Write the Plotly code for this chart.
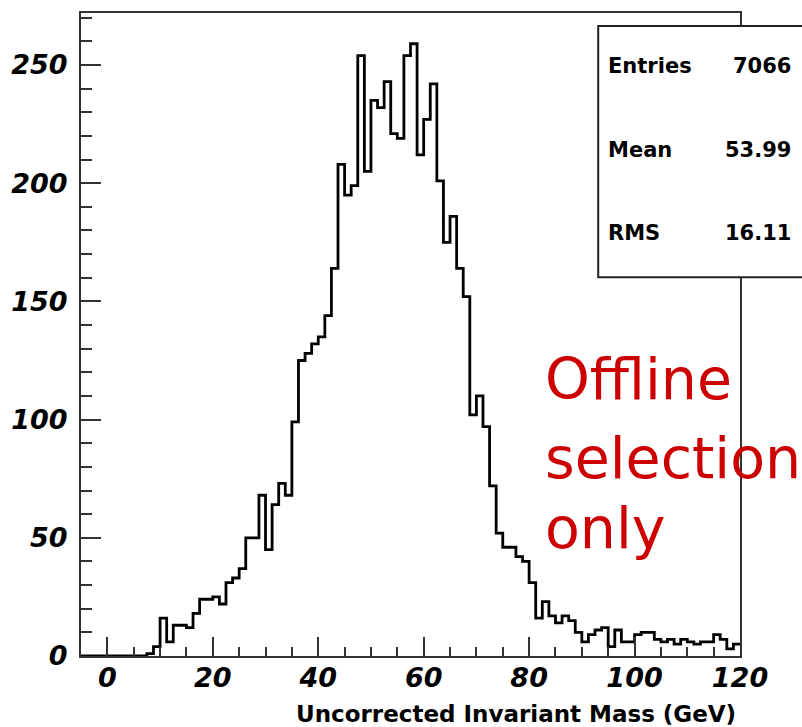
import plotly.graph_objects as go

# ---------------- data ----------------
bin_low = -5.0
bin_width = 1.25
counts = [
    0, 0, 0, 0, 0, 0, 0, 0, 0, 0,
    1, 4, 16, 6, 13, 13, 12, 18, 24, 24,
    25, 22, 31, 33, 37, 50, 50, 68, 45, 64,
    73, 68, 99, 125, 128, 132, 135, 144, 164, 208,
    195, 199, 254, 205, 235, 232, 243, 221, 219, 254,
    259, 212, 227, 242, 201, 175, 186, 164, 152, 102,
    110, 97, 72, 52, 46, 46, 42, 40, 31, 16,
    23, 17, 14, 17, 15, 10, 6, 9, 11, 12,
    4, 11, 6, 6, 9, 10, 10, 7, 6, 7,
    5, 7, 6, 5, 6, 6, 9, 7, 3, 5,
]
x_ticks = [0, 20, 40, 60, 80, 100, 120]
y_ticks = [0, 50, 100, 150, 200, 250]
x_title = "Uncorrected Invariant Mass (GeV)"
stats_labels = ["Entries", "Mean", "RMS"]
stats_values = ["7066", "53.99", "16.11"]
note_lines = ["Offline", "selection", "only"]

# ---------------- geometry ----------------
W, H = 802, 727
L, R, T, B = 80, 62, 11, 71
PW, PH = W - L - R, H - T - B


def px_x(px):
    return (px - L) / PW


def px_y(py):
    return (H - B - py) / PH


edges = [bin_low + bin_width * i for i in range(len(counts) + 1)]
yvals = counts + [counts[-1]]

fig = go.Figure()
fig.add_trace(go.Scatter(
    x=edges, y=yvals, mode="lines", line=dict(shape="hv", color="black", width=2.8),
    hoverinfo="skip", showlegend=False,
))

tickfont = dict(family="DejaVu Sans", size=27, weight="bold", style="italic", color="black")
axcol = "#333333"

fig.update_layout(
    width=W, height=H,
    margin=dict(l=L, r=R, t=T, b=B),
    paper_bgcolor="white", plot_bgcolor="white",
    showlegend=False,
    xaxis=dict(
        range=[bin_low, bin_low + bin_width * len(counts)],
        tickvals=x_ticks, ticks="inside", ticklen=19, tickwidth=2, tickcolor=axcol,
        minor=dict(dtick=5, tick0=0, ticks="inside", ticklen=9, tickwidth=2, tickcolor=axcol, showgrid=False),
        showline=True, linecolor=axcol, linewidth=2, mirror=True,
        showgrid=False, zeroline=False, tickfont=tickfont, ticklabelstandoff=-3,
    ),
    yaxis=dict(
        range=[0, 272],
        tickvals=y_ticks, ticks="inside", ticklen=20, tickwidth=2, tickcolor=axcol,
        minor=dict(dtick=10, tick0=0, ticks="inside", ticklen=11, tickwidth=2, tickcolor=axcol, showgrid=False),
        showline=True, linecolor=axcol, linewidth=2, mirror=True,
        showgrid=False, zeroline=False, tickfont=tickfont, ticklabelstandoff=6,
    ),
)

# x axis title, right aligned at the end of the axis
fig.add_annotation(
    xref="paper", yref="paper", x=px_x(738), y=px_y(714), xanchor="right", yanchor="middle",
    text=x_title, showarrow=False,
    font=dict(family="DejaVu Sans", size=23, weight="bold", color="black"),
)

# stats box
fig.add_shape(
    type="rect", xref="paper", yref="paper", layer="above",
    x0=px_x(598), x1=px_x(830), y0=px_y(276), y1=px_y(24),
    fillcolor="white", line=dict(color="#222222", width=2),
)
stat_rows = [64, 148, 232]
for lab, val, row in zip(stats_labels, stats_values, stat_rows):
    fig.add_annotation(
        xref="paper", yref="paper", x=px_x(606), y=px_y(row), xanchor="left", yanchor="middle",
        text=lab, showarrow=False,
        font=dict(family="DejaVu Sans", size=21, weight="bold", color="black"),
    )
    fig.add_annotation(
        xref="paper", yref="paper", x=px_x(793), y=px_y(row), xanchor="right", yanchor="middle",
        text=val, showarrow=False,
        font=dict(family="DejaVu Sans", size=21, weight="bold", color="black"),
    )

# red note
note_rows = [378, 457, 528]
for line, row in zip(note_lines, note_rows):
    fig.add_annotation(
        xref="paper", yref="paper", x=px_x(543), y=px_y(row), xanchor="left", yanchor="middle",
        text=line, showarrow=False,
        font=dict(family="DejaVu Sans", size=57, color="rgb(204,0,0)"),
    )

fig.write_html("out.html")
